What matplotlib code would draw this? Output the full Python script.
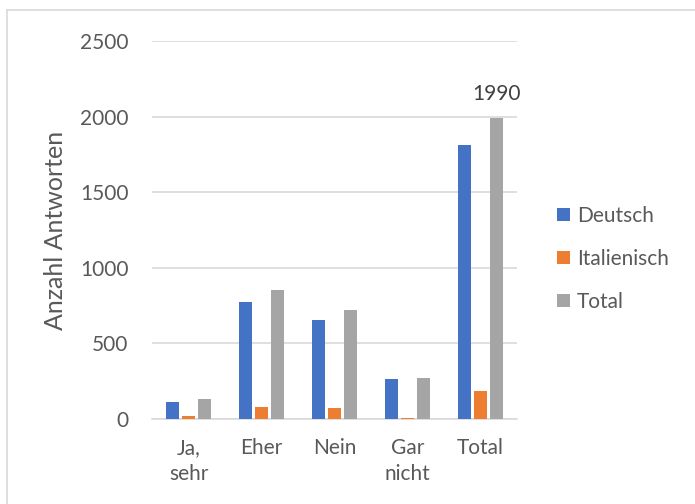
import matplotlib.pyplot as plt
from matplotlib.lines import Line2D
import numpy as np

# Antworten pro Kategorie und Sprache
kategorien = ["Ja,\nsehr", "Eher", "Nein", "Gar\nnicht", "Total"]
deutsch = [115, 773, 652, 264, 1809]
italienisch = [20, 77, 71, 5, 183]
total = [135, 855, 723, 271, 1990]

serien = ["Deutsch", "Italienisch", "Total"]
farben = ["#4472c4", "#ed7d31", "#a5a5a5"]
grau = "#595959"

plt.rcParams["font.family"] = ["Lato", "DejaVu Sans"]

fig = plt.figure(figsize=(6.95, 5.04), dpi=100)
W, H = 695, 504
ax = fig.add_axes([152 / W, 1 - 419 / H, 365 / W, 378 / H])

x = np.arange(len(kategorien))
schritt = 16 / 73
breite = 13 / 73
for i, (werte, name, farbe) in enumerate(zip([deutsch, italienisch, total], serien, farben)):
    ax.bar(x + (i - 1) * schritt, werte, breite, color=farbe, label=name, zorder=3)

# Wertbeschriftung nur beim Gesamttotal
ax.text(x[-1] + schritt, total[-1] + 95, str(total[-1]), ha="center", va="bottom",
        fontsize=15, color="#404040")

ax.set_xlim(-0.5, len(kategorien) - 0.5)
ax.set_ylim(0, 2500)
ax.set_yticks(range(0, 2501, 500))
ax.set_xticks(x)
ax.set_xticklabels(kategorien, fontsize=15, color=grau, linespacing=1.35)
ax.tick_params(axis="y", labelsize=15, labelcolor=grau, length=0, pad=17)
ax.tick_params(axis="x", length=0, pad=14)
ax.grid(axis="y", color="#d9d9d9", linewidth=1.2, zorder=0)
for s in ["top", "right", "left"]:
    ax.spines[s].set_visible(False)
ax.spines["bottom"].set_color("#d9d9d9")
ax.spines["bottom"].set_linewidth(1.2)
ax.set_ylabel("Anzahl Antworten", fontsize=18, color=grau)
ax.yaxis.set_label_coords(-0.232, 0.5)

ax.legend(loc="center left", frameon=False, fontsize=15, labelcolor=grau,
          handlelength=0.6, handleheight=0.6, handletextpad=0.35, labelspacing=1.1,
          borderpad=0, borderaxespad=0)
leg = ax.get_legend()
leg.set_bbox_to_anchor((557 / W, 1 - 259 / H), transform=fig.transFigure)

# Rahmen des Diagramms (oben und links)
fig.add_artist(Line2D([7 / W, 7 / W], [0, 1 - 10 / H], color="#d9d9d9", linewidth=1.2))
fig.add_artist(Line2D([7 / W, 1], [1 - 10 / H, 1 - 10 / H], color="#d9d9d9", linewidth=1.2))

fig.savefig("out.png", dpi=100)
